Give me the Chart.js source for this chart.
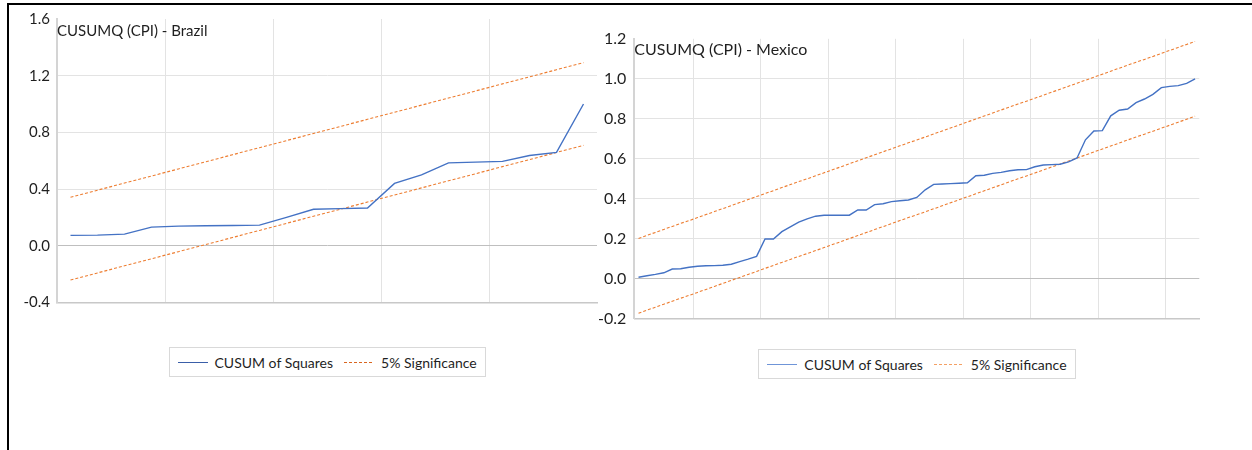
<!DOCTYPE html>
<html>
<head>
<meta charset="utf-8">
<script src="https://cdn.jsdelivr.net/npm/chart.js@4.4.1/dist/chart.umd.min.js"></script>
<style>
  html, body { margin: 0; padding: 0; background: #fff; }
  body { width: 1252px; height: 450px; position: relative; overflow: hidden; font-family: Lato, "Open Sans", sans-serif; }
  #frame { position: absolute; left: 7px; top: 3px; width: 1260px; height: 460px; border-left: 2px solid #000; border-top: 2px solid #000; }
  canvas { position: absolute; }
  .legend { position: absolute; display: flex; align-items: center; border: 1px solid #d9d9d9; height: 30px; padding: 0 8px; box-sizing: border-box; font-size: 14px; color: #1f1f1f; white-space: nowrap; background: #fff; }
  .legend .item { display: flex; align-items: center; }
  .legend .item + .item { margin-left: 11px; }
  .legend .sw { display: inline-block; width: 30px; height: 1px; margin-right: 7px; }
</style>
</head>
<body>
<div id="frame"></div>
<canvas id="brazil" width="590" height="330" style="left:12px;top:8px"></canvas>
<canvas id="mexico" width="660" height="330" style="left:592px;top:8px"></canvas>
<div id="legBrazil" class="legend"></div>
<div id="legMexico" class="legend"></div>
<script>
// ---- Brazil: CUSUM of squares with 5% significance bounds ----
const brazilCusum = [0.073, 0.075, 0.082, 0.131, 0.138, 0.141, 0.143, 0.145, 0.200, 0.257,
                     0.262, 0.266, 0.440, 0.500, 0.585, 0.590, 0.595, 0.637, 0.659, 1.000];
const brazilUpper = [0.342, 0.392, 0.442, 0.492, 0.542, 0.592, 0.642, 0.692, 0.742, 0.792,
                     0.842, 0.892, 0.942, 0.992, 1.042, 1.092, 1.142, 1.192, 1.242, 1.292];
const brazilLower = [-0.242, -0.192, -0.142, -0.092, -0.042, 0.008, 0.058, 0.108, 0.158, 0.208,
                     0.258, 0.308, 0.358, 0.408, 0.458, 0.508, 0.558, 0.608, 0.658, 0.708];
const brazilYTicks = [-0.4, 0.0, 0.4, 0.8, 1.2, 1.6];

// ---- Mexico: CUSUM of squares with 5% significance bounds ----
const mexicoCusum = [0.008, 0.015, 0.022, 0.030, 0.049, 0.050, 0.058, 0.063, 0.065, 0.066,
                     0.068, 0.073, 0.086, 0.098, 0.112, 0.199, 0.199, 0.236, 0.260, 0.283,
                     0.300, 0.313, 0.318, 0.318, 0.318, 0.318, 0.344, 0.344, 0.371, 0.375,
                     0.386, 0.390, 0.394, 0.407, 0.445, 0.472, 0.474, 0.476, 0.478, 0.480,
                     0.515, 0.518, 0.527, 0.532, 0.540, 0.545, 0.546, 0.560, 0.569, 0.571,
                     0.573, 0.585, 0.604, 0.695, 0.739, 0.741, 0.815, 0.843, 0.849, 0.881,
                     0.899, 0.922, 0.956, 0.962, 0.966, 0.977, 1.000];
const mexicoUpper = [0.202, 0.217, 0.232, 0.247, 0.262, 0.277, 0.291, 0.306, 0.321, 0.336,
                     0.351, 0.366, 0.381, 0.396, 0.411, 0.426, 0.441, 0.456, 0.471, 0.486,
                     0.500, 0.515, 0.530, 0.545, 0.560, 0.575, 0.590, 0.605, 0.620, 0.635,
                     0.650, 0.665, 0.680, 0.694, 0.709, 0.724, 0.739, 0.754, 0.769, 0.784,
                     0.799, 0.814, 0.829, 0.844, 0.859, 0.874, 0.888, 0.903, 0.918, 0.933,
                     0.948, 0.963, 0.978, 0.993, 1.008, 1.023, 1.038, 1.053, 1.068, 1.083,
                     1.097, 1.112, 1.127, 1.142, 1.157, 1.172, 1.187];
const mexicoLower = [-0.172, -0.157, -0.142, -0.127, -0.112, -0.097, -0.083, -0.068, -0.053, -0.038,
                     -0.023, -0.008, 0.007, 0.022, 0.037, 0.052, 0.067, 0.082, 0.097, 0.112,
                     0.126, 0.141, 0.156, 0.171, 0.186, 0.201, 0.216, 0.231, 0.246, 0.261,
                     0.276, 0.291, 0.306, 0.320, 0.335, 0.350, 0.365, 0.380, 0.395, 0.410,
                     0.425, 0.440, 0.455, 0.470, 0.485, 0.500, 0.514, 0.529, 0.544, 0.559,
                     0.574, 0.589, 0.604, 0.619, 0.634, 0.649, 0.664, 0.679, 0.694, 0.709,
                     0.723, 0.738, 0.753, 0.768, 0.783, 0.798, 0.813];
const mexicoYTicks = [-0.2, 0.0, 0.2, 0.4, 0.6, 0.8, 1.0, 1.2];

const seriesNames = ['CUSUM of Squares', '5% Significance'];

const BLUE = '#4472C4';
const ORANGE = '#ED7D31';
const INK = '#1f1f1f';
const FONT = 'Lato, "Open Sans", sans-serif';

// Draws the panel heading inside the top-left corner of the plot area
const panelTitle = {
  id: 'panelTitle',
  afterDraw(chart, args, opts) {
    const { ctx, chartArea } = chart;
    ctx.save();
    ctx.font = opts.font;
    ctx.fillStyle = opts.color;
    ctx.textAlign = 'left';
    ctx.textBaseline = 'middle';
    ctx.fillText(opts.text, chartArea.left + opts.dx, chartArea.top + opts.dy);
    ctx.restore();
  }
};

function makePanel(canvasId, cfg) {
  const labels = cfg.cusum.map((_, i) => String(i + 1));
  const yTicks = cfg.yTicks;
  return new Chart(document.getElementById(canvasId), {
    type: 'line',
    data: {
      labels,
      datasets: [
        { label: seriesNames[0], data: cfg.cusum, borderColor: BLUE, borderWidth: 1.4, pointRadius: 0, tension: 0, order: 0 },
        { label: seriesNames[1], data: cfg.upper, borderColor: ORANGE, borderWidth: 1.1, borderDash: [3, 2], pointRadius: 0, order: 1 },
        { label: seriesNames[1], data: cfg.lower, borderColor: ORANGE, borderWidth: 1.1, borderDash: [3, 2], pointRadius: 0, order: 1 }
      ]
    },
    options: {
      responsive: false,
      animation: false,
      devicePixelRatio: 1,
      layout: { padding: cfg.padding },
      plugins: {
        legend: { display: false },
        tooltip: { enabled: false },
        panelTitle: { text: cfg.title, font: cfg.titleFont, color: INK, dx: 0, dy: cfg.titleDy }
      },
      scales: {
        x: {
          type: 'category',
          offset: true,
          grid: {
            offset: true,
            drawTicks: false,
            lineWidth: 1,
            color: ctx => (ctx.index > 0 && ctx.index % cfg.gridEvery === cfg.gridPhase) ? '#e3e3e3' : 'rgba(0,0,0,0)'
          },
          border: { display: true, color: '#c8c8c8', width: 1.5 },
          ticks: { display: false },
          afterFit(s) { s.height = 0; s.paddingLeft = 0; s.paddingRight = 0; }
        },
        y: {
          type: 'linear',
          min: yTicks[0],
          max: yTicks[yTicks.length - 1],
          afterBuildTicks(s) { s.ticks = yTicks.map(v => ({ value: v })); },
          grid: {
            drawTicks: false,
            lineWidth: 1,
            color: ctx => {
              const v = ctx.tick ? ctx.tick.value : null;
              if (v === 0) return '#bfbfbf';
              if (v === yTicks[yTicks.length - 1] || v === yTicks[0]) return 'rgba(0,0,0,0)';
              return '#e3e3e3';
            }
          },
          border: { display: true, color: '#d4d4d4', width: 2 },
          ticks: {
            padding: cfg.tickPad,
            color: INK,
            font: { family: FONT, size: cfg.tickSize },
            callback: v => Number(v).toFixed(1)
          },
          afterFit(s) { s.width = cfg.yAxisWidth; s.paddingTop = 0; s.paddingBottom = 0; }
        }
      }
    },
    plugins: [panelTitle]
  });
}

const brazil = makePanel('brazil', {
  cusum: brazilCusum, upper: brazilUpper, lower: brazilLower, yTicks: brazilYTicks,
  title: 'CUSUMQ (CPI) - Brazil', titleFont: '15px ' + FONT, titleDy: 12,
  padding: { left: 0, top: 11, right: 5, bottom: 35.6 },
  yAxisWidth: 45, tickPad: 7, tickSize: 15, gridEvery: 4, gridPhase: 0
});

const mexico = makePanel('mexico', {
  cusum: mexicoCusum, upper: mexicoUpper, lower: mexicoLower, yTicks: mexicoYTicks,
  title: 'CUSUMQ (CPI) - Mexico', titleFont: '16px ' + FONT, titleDy: 11,
  padding: { left: 0, top: 30.8, right: 52.7, bottom: 19.2 },
  yAxisWidth: 42.3, tickPad: 8, tickSize: 16, gridEvery: 8, gridPhase: 7
});

// Legend boxes built from each chart's datasets, centred beneath the plot area
function buildLegend(chart, el, canvasLeft, top, swatchColors) {
  el.innerHTML = '';
  const seen = new Set();
  chart.data.datasets.forEach(ds => {
    if (seen.has(ds.label)) return;
    seen.add(ds.label);
    const item = document.createElement('span');
    item.className = 'item';
    const sw = document.createElement('span');
    sw.className = 'sw';
    const dashed = ds.borderDash && ds.borderDash.length;
    const col = dashed ? swatchColors.dash : swatchColors.solid;
    sw.style.background = dashed
      ? `repeating-linear-gradient(90deg, ${col} 0 3px, transparent 3px 5px)`
      : col;
    const txt = document.createElement('span');
    txt.textContent = ds.label;
    item.appendChild(sw);
    item.appendChild(txt);
    el.appendChild(item);
  });
  const a = chart.chartArea;
  const centre = canvasLeft + (a.left + a.right) / 2;
  el.style.top = top + 'px';
  el.style.left = (centre - el.offsetWidth / 2) + 'px';
}

buildLegend(brazil, document.getElementById('legBrazil'), 12, 347, { solid: '#3a5ea8', dash: '#d9661f' });
buildLegend(mexico, document.getElementById('legMexico'), 592, 349, { solid: '#6f95d8', dash: '#f4a064' });
</script>
</body>
</html>
